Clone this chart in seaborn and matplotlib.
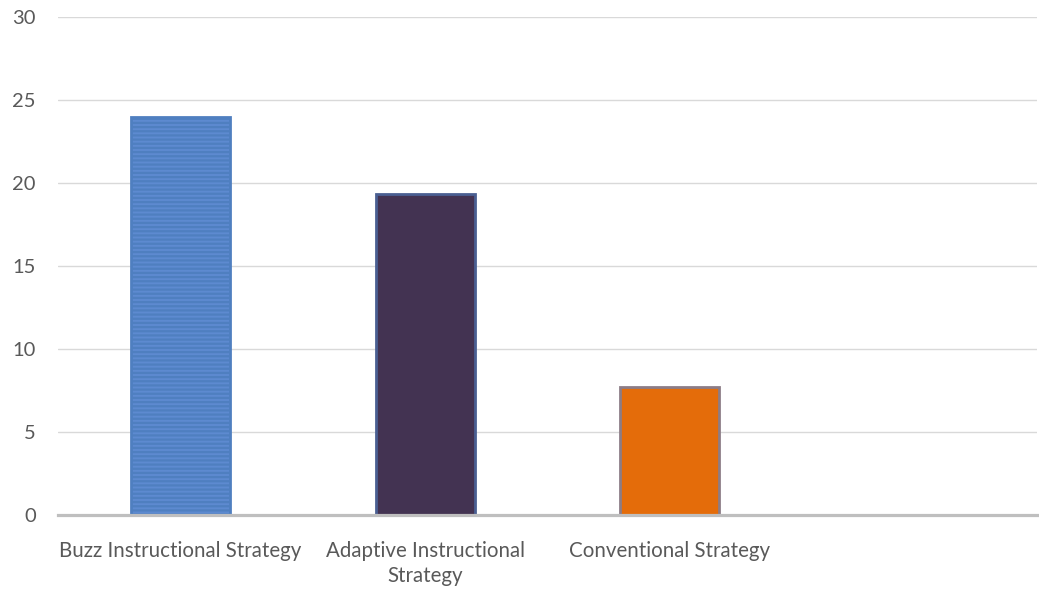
import matplotlib
matplotlib.use("Agg")
import matplotlib.pyplot as plt
import seaborn as sns
import pandas as pd

# Mean scores by instructional strategy
strategies = ["Buzz Instructional Strategy", "Adaptive Instructional\nStrategy", "Conventional Strategy"]
scores = [24.0, 19.33, 7.7]
slot_order = strategies + [" "]
bar_colors = ["#5d8ad0", "#433352", "#e46c0a"]
edge_colors = ["#4f7fc0", "#4a5f92", "#8c7c86"]
y_ticks = [0, 5, 10, 15, 20, 25, 30]

sns.set_theme(style="white")
plt.rcParams["font.family"] = ["Lato", "DejaVu Sans"]
plt.rcParams["hatch.color"] = "#bcd0ef"
plt.rcParams["hatch.linewidth"] = 1.6

df = pd.DataFrame({"strategy": strategies, "score": scores})

fig = plt.figure(figsize=(10.39, 5.96), dpi=100)
ax = fig.add_axes([58 / 1039, 1 - 515 / 596, (1037 - 58) / 1039, (515 - 17) / 596])

sns.barplot(data=df, x="strategy", y="score", hue="strategy", order=slot_order,
            hue_order=strategies, palette=bar_colors, width=0.405, saturation=1,
            legend=False, ax=ax, zorder=3)

for patch, ec in zip(ax.patches, edge_colors):
    patch.set_edgecolor(ec)
    patch.set_linewidth(2.0)
ax.patches[0].set_hatch("----")

ax.set_ylim(0, 30)
ax.set_yticks(y_ticks)
ax.set_xlim(-0.5, 3.5)
ax.yaxis.grid(True, color="#d9d9d9", linewidth=1.0, zorder=0)
ax.set_axisbelow(True)
for side in ["left", "right", "top"]:
    ax.spines[side].set_visible(False)
ax.spines["bottom"].set_color("#bfbfbf")
ax.spines["bottom"].set_linewidth(2.3)
ax.spines["bottom"].set_zorder(4)

ax.set_xlabel("")
ax.set_ylabel("")
ax.tick_params(axis="y", length=0, pad=16, labelsize=14.5, labelcolor="#595959")
ax.tick_params(axis="x", length=0, pad=19, labelsize=14.8, labelcolor="#595959")
for lbl in ax.get_xticklabels():
    lbl.set_linespacing(1.3)

fig.savefig("out.png", dpi=100, facecolor="white")
